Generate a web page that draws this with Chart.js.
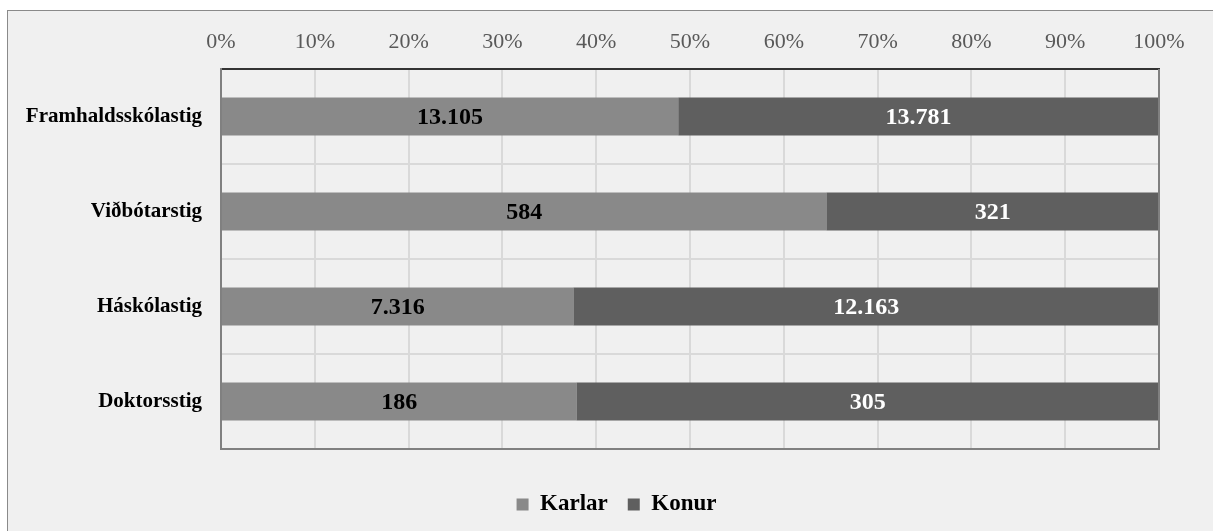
<!DOCTYPE html>
<html>
<head>
<meta charset="utf-8">
<script src="https://cdn.jsdelivr.net/npm/chart.js@4.4.1/dist/chart.umd.min.js"></script>
<style>
    body { margin: 0; background: #ffffff; }
    #frame {
        position: absolute; left: 7px; top: 10px;
        width: 1230px; height: 540px;
        border-left: 1px solid #8a8a8a; border-top: 1px solid #8a8a8a;
        background: #f0f0f0;
    }
    #wrap { position: absolute; left: 0; top: 0; width: 1205px; height: 520px; }
</style>
</head>
<body>
<div id="frame">
    <div id="wrap"><canvas id="eduChart"></canvas></div>
</div>
<script>
// Data
const categories = ['Framhaldsskólastig', 'Viðbótarstig', 'Háskólastig', 'Doktorsstig'];
const karlar = [13105, 584, 7316, 186];
const konur = [13781, 321, 12163, 305];
const seriesNames = ['Karlar', 'Konur'];
const tickLabels = ['0%', '10%', '20%', '30%', '40%', '50%', '60%', '70%', '80%', '90%', '100%'];

const rawValues = [karlar, konur];
const barColors = ['#898989', '#5f5f5f'];
const labelColors = ['#000000', '#ffffff'];
const FONT = '"Liberation Serif", "Times New Roman", serif';

// share of each row, for the 100% stack
function shares(series) {
    return series.map((v, i) => v / (karlar[i] + konur[i]) * 100);
}

function fmt(n) {
    return String(n).replace(/\B(?=(\d{3})+(?!\d))/g, '.');
}

const barLabels = {
    id: 'barLabels',
    afterDatasetsDraw(chart) {
        const ctx = chart.ctx;
        ctx.save();
        ctx.font = 'bold 24px ' + FONT;
        ctx.textAlign = 'center';
        ctx.textBaseline = 'middle';
        chart.data.datasets.forEach((ds, i) => {
            const meta = chart.getDatasetMeta(i);
            meta.data.forEach((bar, j) => {
                ctx.fillStyle = labelColors[i];
                ctx.fillText(fmt(rawValues[i][j]), (bar.x + bar.base) / 2, bar.y + 1);
            });
        });
        ctx.restore();
    }
};

// right and bottom edge of the plot area
const plotFrame = {
    id: 'plotFrame',
    afterLayout(chart) {
        // legend is centred on the whole frame, not on the plot side
        chart.legend.left += 33;
        chart.legend.right += 33;
    },
    afterDraw(chart) {
        const { ctx, chartArea: a } = chart;
        ctx.save();
        ctx.strokeStyle = '#808080';
        ctx.lineWidth = 2;
        ctx.beginPath();
        ctx.moveTo(a.right, a.top);
        ctx.lineTo(a.right, a.bottom);
        ctx.lineTo(a.left, a.bottom);
        ctx.stroke();
        ctx.restore();
    }
};

const ctx = document.getElementById('eduChart').getContext('2d');
const chart = new Chart(ctx, {
    type: 'bar',
    data: {
        labels: categories,
        datasets: [
            {
                label: seriesNames[0],
                data: shares(karlar),
                backgroundColor: barColors[0],
                borderWidth: 0
            },
            {
                label: seriesNames[1],
                data: shares(konur),
                backgroundColor: barColors[1],
                borderWidth: 0
            }
        ]
    },
    plugins: [barLabels, plotFrame],
    options: {
        indexAxis: 'y',
        responsive: true,
        maintainAspectRatio: false,
        animation: false,
        layout: { padding: { top: 0, right: 54, bottom: 5, left: 0 } },
        datasets: { bar: { barPercentage: 0.4, categoryPercentage: 1 } },
        scales: {
            x: {
                position: 'top',
                stacked: true,
                min: 0,
                max: 100,
                afterFit: (s) => { s.height = 58; },
                ticks: {
                    stepSize: 10,
                    padding: 14,
                    color: '#595959',
                    font: { family: FONT, size: 22 },
                    callback: (v, i) => tickLabels[i]
                },
                grid: { color: '#d9d9d9', lineWidth: 2, drawTicks: false },
                border: { color: '#333333', width: 2 }
            },
            y: {
                stacked: true,
                afterFit: (s) => { s.width = 213; },
                ticks: {
                    padding: 19,
                    color: '#000000',
                    font: { family: FONT, size: 21, weight: 'bold' }
                },
                grid: { color: '#d9d9d9', lineWidth: 2, drawTicks: false, offset: true },
                border: { color: '#808080', width: 2 }
            }
        },
        plugins: {
            legend: {
                position: 'bottom',
                title: { display: true, text: '', font: { size: 10 }, padding: { top: 6, bottom: 6 } },
                labels: {
                    boxWidth: 12,
                    boxHeight: 12,
                    padding: 20,
                    color: '#000000',
                    font: { family: FONT, size: 23, weight: 'bold' }
                }
            },
            tooltip: { enabled: false }
        }
    }
});
</script>
</body>
</html>
